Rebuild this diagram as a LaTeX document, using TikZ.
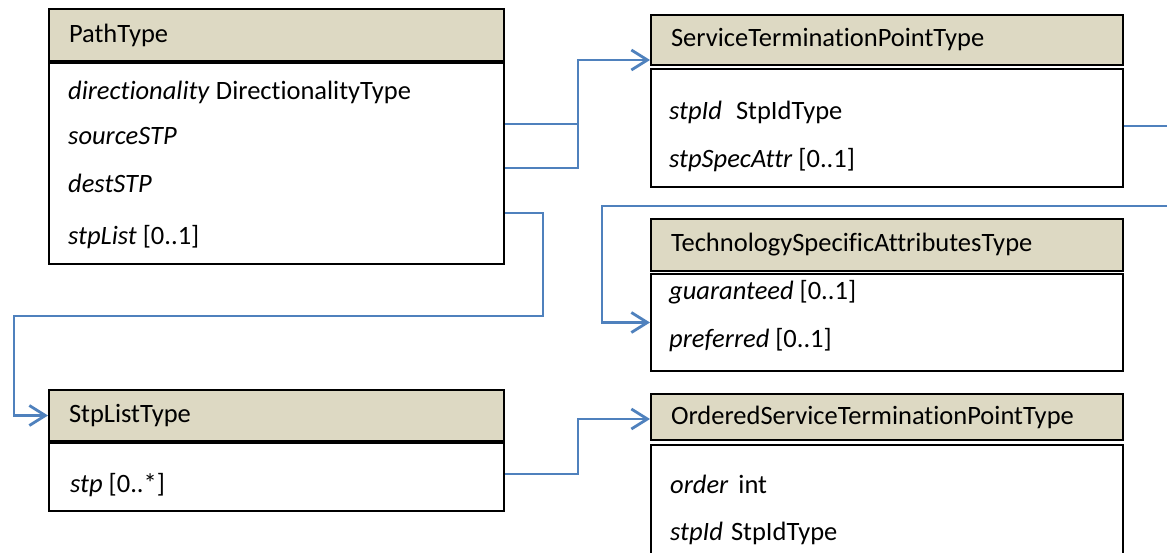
\documentclass[tikz,border=0pt]{standalone}
\usepackage{fontspec}
\setmainfont{Carlito}[Ligatures=NoCommon]
\usetikzlibrary{calc,arrows.meta}
\definecolor{hdrfill}{HTML}{DDD9C3}
\definecolor{linkblue}{HTML}{4F81BD}
\tikzset{
  hdr/.style={draw=black, line width=2pt, fill=hdrfill, anchor=north west,
    inner xsep=20pt, inner ysep=0pt, align=left, font=\fontsize{26.5}{30}\selectfont},
  body/.style={draw=black, line width=2pt, fill=white, anchor=north west, inner sep=0pt},
  row/.style={anchor=west, inner sep=0pt, font=\fontsize{26.5}{30}\selectfont},
  link/.style={draw=linkblue, line width=2.8pt, -{Straight Barb[length=16pt,width=20pt]}},
  plain/.style={draw=linkblue, line width=2.8pt}
}
\begin{document}
\begin{tikzpicture}[x=1pt,y=-1pt]
\clip (0,0) rectangle (1167,553);
\fill[white] (0,0) rectangle (1167,553);

% PathType
\node[hdr, text width=415pt, minimum height=52pt] (pathHd) at (48,8) {PathType};
\node[body, minimum width=455pt, minimum height=201pt] (pathBd) at (48,62) {};
\node[row] (dirRow) at (68,92) {\textit{directionality} DirectionalityType};
\node[row] (srcRow) at (68,136) {\textit{sourceSTP}};
\node[row] (dstRow) at (68,183) {\textit{destSTP}};
\node[row] (lstRow) at (68,237) {\textit{stpList} [0..1]};

% ServiceTerminationPointType
\node[hdr, text width=432pt, minimum height=50pt] (stpHd) at (650,14) {ServiceTerminationPointType};
\node[body, minimum width=472pt, minimum height=118pt] (stpBd) at (650,68) {};
\node[row] (idRow) at (669,112) {\textit{stpId}\hspace{14pt}StpIdType};
\node[row] (specRow) at (669,160) {\textit{stpSpecAttr} [0..1]};

% TechnologySpecificAttributesType
\node[hdr, text width=432pt, minimum height=52pt] (tsaHd) at (650,218) {TechnologySpecificAttributesType};
\node[body, minimum width=472pt, minimum height=97pt] (tsaBd) at (650,273) {};
\node[row] (guarRow) at (669,292) {\textit{guaranteed} [0..1]};
\node[row] (prefRow) at (669,340) {\textit{preferred} [0..1]};

% StpListType
\node[hdr, text width=415pt, minimum height=51pt] (listHd) at (48,389) {StpListType};
\node[body, minimum width=455pt, minimum height=68pt] (listBd) at (48,442) {};
\node[row] (stpRow) at (70,485) {\textit{stp} [0..*]};

% OrderedServiceTerminationPointType
\node[hdr, text width=432pt, minimum height=46pt] (ostpHd) at (650,393) {OrderedServiceTerminationPointType};
\node[body, minimum width=472pt, minimum height=140pt] (ostpBd) at (650,444) {};
\node[row] (ordRow) at (670,484) {\textit{order}\hspace{10pt}int};
\node[row] (oidRow) at (670,533) {\textit{stpId}\hspace{8pt}StpIdType};

% connectors
\coordinate (bendC) at (14,316);
\coordinate (offA) at (1180,126);
\coordinate (offB) at (1180,206);
\draw[link] ([yshift=-62pt]pathBd.north east) -- ++(73,0) |- ([yshift=6pt]stpHd.south west);
\draw[plain] ([yshift=-106pt]pathBd.north east) -| ([xshift=73pt,yshift=-62pt]pathBd.north east);
\draw[link] ([yshift=-151pt]pathBd.north east) -- ++(38,0) |- (bendC) |- (listHd.west);
\draw[plain] ([yshift=-58pt]stpBd.north east) -- (offA);
\draw[link] (offB) -| ([xshift=-48pt]tsaBd.west) -- (tsaBd.west);
\draw[link] ([yshift=3pt]listBd.east) -- ++(73,0) |- ([yshift=-2pt]ostpHd.west);
\end{tikzpicture}
\end{document}
